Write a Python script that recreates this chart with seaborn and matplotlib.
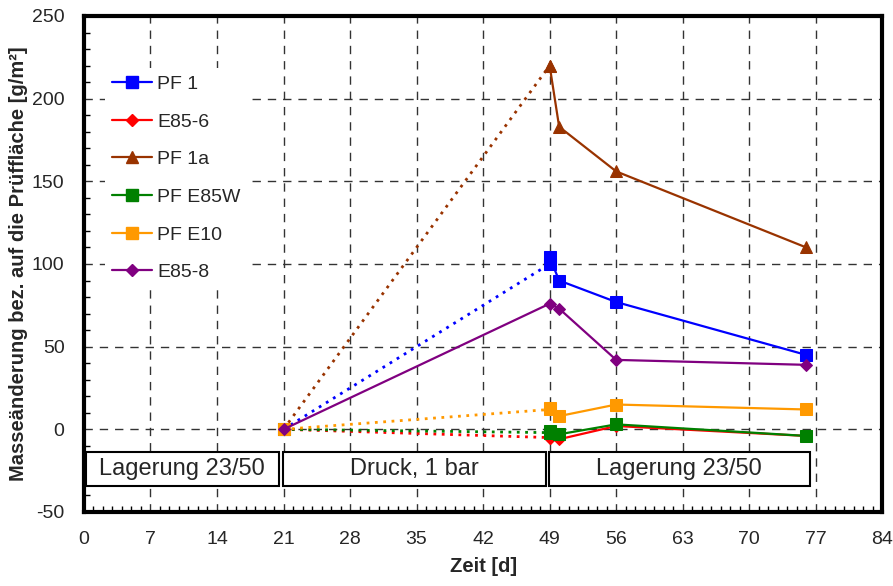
import matplotlib
matplotlib.use("Agg")
import pandas as pd
import seaborn as sns
import matplotlib.pyplot as plt
from matplotlib.patches import Rectangle
from matplotlib.ticker import MultipleLocator

# Messtage
tage_druck = [21, 49]
tage_lager = [49, 50, 56, 76]
tage_e858 = [21, 49, 50, 56, 76]

# Masseaenderung [g/m2]
pf1_druck = [0, 100]
pf1_lager = [104, 90, 77, 45]
e856_druck = [0, -5]
e856_lager = [-5, -6, 2, -4]
pf1a_druck = [0, 220]
pf1a_lager = [220, 183, 156, 110]
e85w_druck = [0, -2]
e85w_lager = [-1, -3, 3, -4]
e10_druck = [0, 12]
e10_lager = [13, 8, 15, 12]
e858_werte = [0, 76, 73, 42, 39]

namen = ["PF 1", "E85-6", "PF 1a", "PF E85W", "PF E10", "E85-8"]
farben = ["#0000FF", "#FF0000", "#993300", "#008000", "#FF9900", "#800080"]
marker = ["s", "D", "^", "s", "s", "D"]
msize = [8, 6, 8, 8, 8, 6]

phasen = ["Lagerung 23/50", "Druck, 1 bar", "Lagerung 23/50"]
phasen_von = [0.2, 20.9, 48.9]
phasen_bis = [20.5, 48.6, 76.4]

sns.set_theme(style="white")
plt.rcParams["font.family"] = ["Liberation Sans", "DejaVu Sans"]
plt.rcParams["axes.unicode_minus"] = False

fig = plt.figure(figsize=(8.93, 5.86), dpi=100)
ax = fig.add_axes([0.094, 0.1263, 0.894, 0.8464])

druck = [pf1_druck, e856_druck, pf1a_druck, e85w_druck, e10_druck, None]
lager = [pf1_lager, e856_lager, pf1a_lager, e85w_lager, e10_lager, None]

handles = []
for i, name in enumerate(namen):
    if name == "E85-8":
        sns.lineplot(x=tage_e858, y=e858_werte, ax=ax, color=farben[i], marker=marker[i],
                     markersize=msize[i], markeredgecolor=farben[i], linewidth=1.6,
                     estimator=None, sort=False, zorder=5)
    else:
        sns.lineplot(x=tage_druck, y=druck[i], ax=ax, color=farben[i], marker=marker[i],
                     markersize=msize[i], markeredgecolor=farben[i], linewidth=2,
                     linestyle=(0, (1, 2)), estimator=None, sort=False, zorder=4)
        sns.lineplot(x=tage_lager, y=lager[i], ax=ax, color=farben[i], marker=marker[i],
                     markersize=msize[i], markeredgecolor=farben[i], linewidth=1.6,
                     estimator=None, sort=False, zorder=4)
    h, = ax.plot([], [], color=farben[i], marker=marker[i], markersize=msize[i],
                 markeredgecolor=farben[i], linewidth=1.6)
    handles.append(h)

# Phasen-Kaesten
for text, von, bis in zip(phasen, phasen_von, phasen_bis):
    ax.add_patch(Rectangle((von, -34), bis - von, 20.5, facecolor="white",
                           edgecolor="black", linewidth=1.5, zorder=3))
    ax.text((von + bis) / 2, -23.7, text, ha="center", va="center", fontsize=17, zorder=3.5)

ax.set_xlim(0, 84)
ax.set_ylim(-50, 250)
ax.xaxis.set_major_locator(MultipleLocator(7))
ax.xaxis.set_minor_locator(MultipleLocator(1))
ax.yaxis.set_major_locator(MultipleLocator(50))
ax.yaxis.set_minor_locator(MultipleLocator(10))
ax.tick_params(which="major", direction="out", length=4, width=1, labelsize=14, color="black")
ax.tick_params(which="minor", direction="in", length=4, width=1, color="black")
ax.tick_params(axis="x", which="major", pad=10)
ax.tick_params(axis="y", which="major", pad=10)
ax.tick_params(axis="x", which="minor", bottom=True)
ax.tick_params(axis="y", which="minor", left=True)

ax.grid(True, which="major", color="#333333", linestyle=(0, (6, 5)), linewidth=1)
ax.set_axisbelow(True)
for s in ax.spines.values():
    s.set_visible(True)
    s.set_color("black")
    s.set_linewidth(3)

ax.set_xlabel("Zeit [d]", fontsize=14.5, fontweight="bold", labelpad=6)
ax.set_ylabel("Masseänderung bez. auf die Prüffläche [g/m²]", fontsize=14.5,
              fontweight="bold", labelpad=3)

leg = ax.legend(handles, namen, loc="upper left", bbox_to_anchor=(0.026, 0.896),
                fontsize=14, frameon=True, facecolor="white", edgecolor="none",
                framealpha=1, labelspacing=1.03, handlelength=2.05, handletextpad=0.25,
                borderaxespad=0, fancybox=False)
leg.set_zorder(6)

fig.savefig("out.png", dpi=100)
